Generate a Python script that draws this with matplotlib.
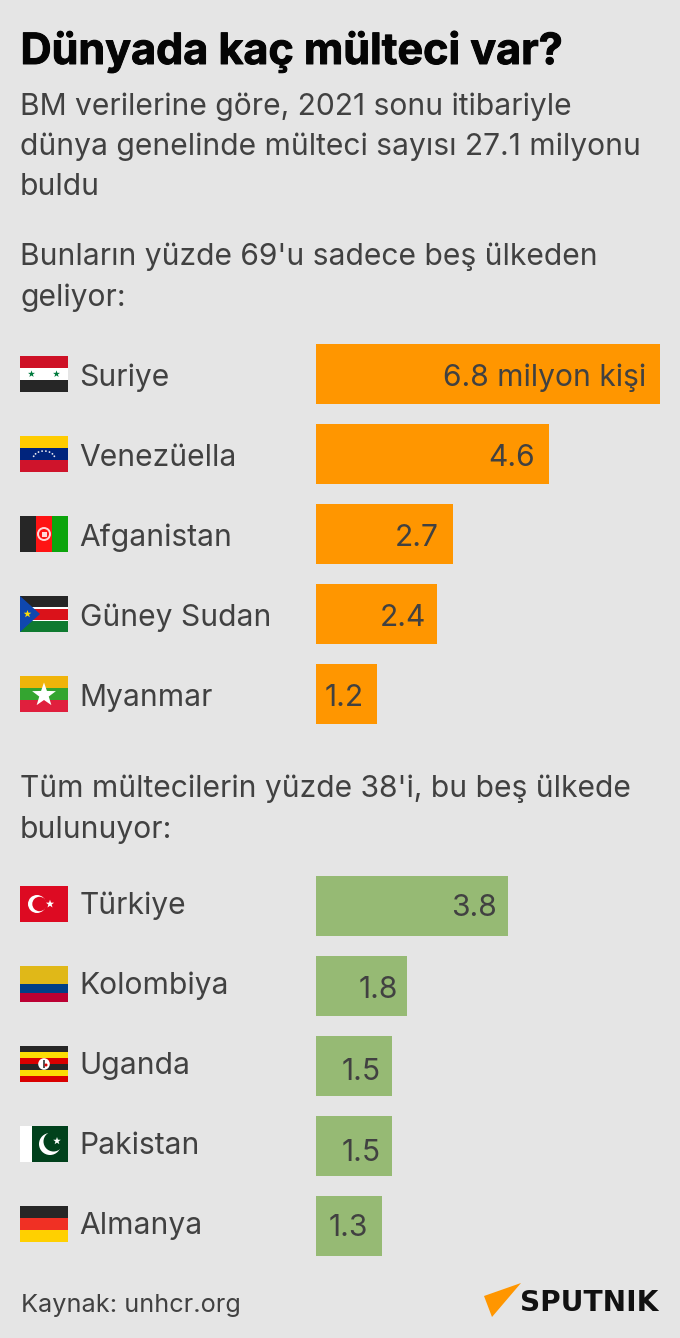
import numpy as np
import matplotlib
matplotlib.use("Agg")
import matplotlib.pyplot as plt
import matplotlib.patheffects as pe
from matplotlib.patches import Rectangle, Polygon, Circle

plt.rcParams['font.family'] = ['Inter', 'DejaVu Sans']

BG = "#e5e5e5"
TEXT = "#414141"
ORANGE = "#ff9600"
GREEN = "#96ba74"

origin_names = ["Suriye", "Venezüella", "Afganistan", "Güney Sudan", "Myanmar"]
origin_values = [6.8, 4.6, 2.7, 2.4, 1.2]
origin_labels = ["6.8 milyon kişi", "4.6", "2.7", "2.4", "1.2"]

host_names = ["Türkiye", "Kolombiya", "Uganda", "Pakistan", "Almanya"]
host_values = [3.8, 1.8, 1.5, 1.5, 1.3]
host_labels = ["3.8", "1.8", "1.5", "1.5", "1.3"]

W, H = 680, 1338
fig = plt.figure(figsize=(W / 100, H / 100), dpi=100, facecolor=BG)

# page layer in pixel coordinates
ax = fig.add_axes([0, 0, 1, 1])
ax.set_xlim(0, W)
ax.set_ylim(H, 0)
ax.axis("off")

# bars live in their own axes, 6.8 million spans the full width
bx = fig.add_axes([316 / W, 0, 344 / W, 1])
bx.set_xlim(0, 6.8)
bx.set_ylim(H, 0)
bx.axis("off")
bx.patch.set_alpha(0)


def stripes(x, y, w, h, colors, heights=None):
    if heights is None:
        heights = [1] * len(colors)
    top = y
    total = sum(heights)
    for c, part in zip(colors, heights):
        ph = h * part / total
        ax.add_patch(Rectangle((x, top), w, ph, fc=c, ec="none"))
        top += ph


def star(cx, cy, r, color):
    ang = np.radians(-90 + 36 * np.arange(10))
    rad = np.where(np.arange(10) % 2 == 0, r, r * 0.4)
    ax.add_patch(Polygon(np.column_stack([cx + rad * np.cos(ang), cy + rad * np.sin(ang)]), fc=color, ec="none"))


def flag_syria(x, y):
    stripes(x, y, 48, 36, ["#ce1126", "#ffffff", "#262626"])
    star(x + 11.5, y + 18, 3.6, "#007a3d")
    star(x + 36.5, y + 18, 3.6, "#007a3d")


def flag_venezuela(x, y):
    stripes(x, y, 48, 36, ["#ffcc00", "#00247d", "#cf142b"])
    for a in np.linspace(160, 20, 8):
        ax.add_patch(Circle((x + 24 + 11 * np.cos(np.radians(a)), y + 23 - 8 * np.sin(np.radians(a))), 0.9, fc="#e8e8f0", ec="none"))


def flag_afghanistan(x, y):
    ax.add_patch(Rectangle((x, y), 16, 36, fc="#262626", ec="none"))
    ax.add_patch(Rectangle((x + 16, y), 16, 36, fc="#ff1414", ec="none"))
    ax.add_patch(Rectangle((x + 32, y), 16, 36, fc="#0ca40c", ec="none"))
    ax.add_patch(Circle((x + 24, y + 18), 6, fc="none", ec="#ffd8d8", lw=1.4))
    ax.add_patch(Rectangle((x + 21.5, y + 15.5), 5, 5, fc="#ffd8d8", ec="none"))


def flag_south_sudan(x, y):
    stripes(x, y, 48, 36, ["#262626", "#ffffff", "#da121a", "#ffffff", "#0f7a30"], [11, 1.5, 11, 1.5, 11])
    ax.add_patch(Polygon([(x, y), (x + 20, y + 18), (x, y + 36)], fc="#0f47af", ec="none"))
    star(x + 7.5, y + 18, 4, "#fcdd09")


def flag_myanmar(x, y):
    stripes(x, y, 48, 36, ["#f0b40a", "#34a530", "#e01f3d"])
    star(x + 24, y + 19, 12.5, "#ffffff")


def flag_turkey(x, y):
    ax.add_patch(Rectangle((x, y), 48, 36, fc="#dd0a22", ec="none"))
    ax.add_patch(Circle((x + 17, y + 18), 9, fc="white", ec="none"))
    ax.add_patch(Circle((x + 19.5, y + 18), 7.2, fc="#dd0a22", ec="none"))
    star(x + 30, y + 18, 4.3, "#ffffff")


def flag_colombia(x, y):
    stripes(x, y, 48, 36, ["#e0b818", "#003f87", "#bb0033"], [2, 1, 1])


def flag_uganda(x, y):
    stripes(x, y, 48, 36, ["#262626", "#fcdc04", "#d90000"] * 2)
    ax.add_patch(Circle((x + 24, y + 18), 5.8, fc="white", ec="none"))
    ax.add_patch(Rectangle((x + 23, y + 14), 2.2, 7.5, fc="#555555", ec="none"))
    ax.add_patch(Circle((x + 26, y + 19), 1.5, fc="#d90000", ec="none"))


def flag_pakistan(x, y):
    ax.add_patch(Rectangle((x, y), 12, 36, fc="white", ec="none"))
    ax.add_patch(Rectangle((x + 12, y), 36, 36, fc="#01411c", ec="none"))
    ax.add_patch(Circle((x + 30, y + 18), 11, fc="white", ec="none"))
    ax.add_patch(Circle((x + 33.5, y + 15.5), 10, fc="#01411c", ec="none"))
    star(x + 37, y + 15, 4, "#ffffff")


def flag_germany(x, y):
    stripes(x, y, 48, 36, ["#262626", "#f03024", "#ffd000"])


def draw_rows(names, values, labels, flags, color, bar_tops, flag_tops, name_ys, value_ys, pads):
    for i in range(len(names)):
        bx.barh(bar_tops[i] + 30, values[i], height=60, left=0, color=color, linewidth=0)
        flags[i](20, flag_tops[i])
        ax.text(79.5, name_ys[i], names[i], fontsize=BODY, color=TEXT, va="center_baseline", ha="left")
        bx.annotate(labels[i], (values[i], value_ys[i]), xytext=(-pads[i] * 0.72, 0), textcoords="offset points",
                    fontsize=BODY, color=TEXT, va="center_baseline", ha="right", annotation_clip=False)


BODY = 21.6

ax.text(20.5, 47, "Dünyada kaç mülteci var?", fontsize=31, fontweight="bold", color="#050505", va="center_baseline",
        path_effects=[pe.withStroke(linewidth=0.7, foreground="#050505")])
ax.text(20, 104, "BM verilerine göre, 2021 sonu itibariyle", fontsize=BODY, color=TEXT, va="center_baseline")
ax.text(20, 144, "dünya genelinde mülteci sayısı 27.1 milyonu", fontsize=BODY, color=TEXT, va="center_baseline")
ax.text(20, 184, "buldu", fontsize=BODY, color=TEXT, va="center_baseline")
ax.text(20, 254, "Bunların yüzde 69'u sadece beş ülkeden", fontsize=BODY, color=TEXT, va="center_baseline")
ax.text(20, 295, "geliyor:", fontsize=BODY, color=TEXT, va="center_baseline")
ax.text(20, 786, "Tüm mültecilerin yüzde 38'i, bu beş ülkede", fontsize=BODY, color=TEXT, va="center_baseline")
ax.text(20, 827, "bulunuyor:", fontsize=BODY, color=TEXT, va="center_baseline")

draw_rows(origin_names, origin_values, origin_labels,
          [flag_syria, flag_venezuela, flag_afghanistan, flag_south_sudan, flag_myanmar],
          ORANGE, [344, 424, 504, 584, 664], [356, 436, 516, 596, 676],
          [375, 455, 535, 615, 695], [375, 455, 535, 615, 695], [14, 14, 14, 11, 13])

draw_rows(host_names, host_values, host_labels,
          [flag_turkey, flag_colombia, flag_uganda, flag_pakistan, flag_germany],
          GREEN, [876, 956, 1036, 1116, 1196], [886, 966, 1046, 1126, 1206],
          [903, 983, 1063, 1143, 1223], [905, 987, 1069, 1150, 1225], [11, 9, 11, 11, 13.5])

ax.text(21, 1303, "Kaynak: unhcr.org", fontsize=18.2, color=TEXT, va="center_baseline")

# logo mark and wordmark
ax.add_patch(Polygon([(484, 1296), (521, 1283), (492, 1317)], fc=ORANGE, ec="none"))
ax.text(520, 1300, "SPUTNIK", fontsize=20.2, fontweight="bold", color="#111111", va="center_baseline",
        family="DejaVu Sans")

fig.savefig("out.png", dpi=100, facecolor=BG)
